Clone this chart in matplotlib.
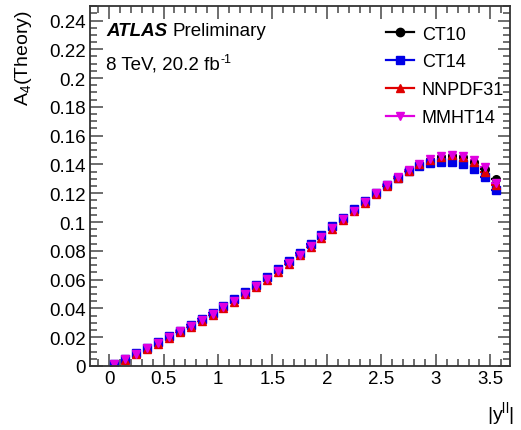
import numpy as np
import matplotlib
matplotlib.use("Agg")
import matplotlib.pyplot as plt
from matplotlib.ticker import MultipleLocator
from matplotlib.lines import Line2D

plt.rcParams['font.family'] = ['Liberation Sans', 'DejaVu Sans']
plt.rcParams['mathtext.fontset'] = 'custom'
plt.rcParams['mathtext.rm'] = 'Liberation Sans'
plt.rcParams['mathtext.it'] = 'Liberation Sans:italic'

# bin centres in |y_ll|
y_ll = [0.05, 0.15, 0.25, 0.35, 0.45, 0.55, 0.65, 0.75, 0.85, 0.95,
        1.05, 1.15, 1.25, 1.35, 1.45, 1.55, 1.65, 1.75, 1.85, 1.95,
        2.05, 2.15, 2.25, 2.35, 2.45, 2.55, 2.65, 2.75, 2.85, 2.95,
        3.05, 3.15, 3.25, 3.35, 3.45, 3.55]

ct10 = [0.0015, 0.0050, 0.0088, 0.0126, 0.0164, 0.0202, 0.0242, 0.0282, 0.0323, 0.0364,
        0.0410, 0.0457, 0.0506, 0.0556, 0.0610, 0.0663, 0.0720, 0.0778, 0.0838, 0.0898,
        0.0960, 0.1020, 0.1080, 0.1140, 0.1198, 0.1255, 0.1308, 0.1358, 0.1400, 0.1432,
        0.1452, 0.1460, 0.1452, 0.1420, 0.1370, 0.1300]
ct14 = [0.0016, 0.0051, 0.0090, 0.0128, 0.0166, 0.0205, 0.0245, 0.0285, 0.0327, 0.0369,
        0.0415, 0.0463, 0.0513, 0.0564, 0.0618, 0.0672, 0.0730, 0.0788, 0.0848, 0.0908,
        0.0970, 0.1030, 0.1088, 0.1146, 0.1203, 0.1257, 0.1306, 0.1352, 0.1388, 0.1412,
        0.1418, 0.1418, 0.1400, 0.1365, 0.1310, 0.1220]
nnpdf31 = [0.0008, 0.0043, 0.0080, 0.0118, 0.0156, 0.0194, 0.0234, 0.0274, 0.0315, 0.0356,
           0.0401, 0.0448, 0.0497, 0.0547, 0.0600, 0.0654, 0.0711, 0.0769, 0.0829, 0.0890,
           0.0952, 0.1013, 0.1074, 0.1135, 0.1194, 0.1252, 0.1306, 0.1357, 0.1400, 0.1433,
           0.1455, 0.1463, 0.1455, 0.1420, 0.1350, 0.1260]
mmht14 = [0.0013, 0.0048, 0.0086, 0.0124, 0.0162, 0.0200, 0.0240, 0.0280, 0.0321, 0.0362,
          0.0407, 0.0454, 0.0503, 0.0553, 0.0606, 0.0660, 0.0716, 0.0774, 0.0834, 0.0895,
          0.0957, 0.1018, 0.1079, 0.1140, 0.1199, 0.1256, 0.1310, 0.1361, 0.1405, 0.1438,
          0.1460, 0.1468, 0.1460, 0.1428, 0.1380, 0.1270]

series = [("CT10", ct10, "black", "o"),
          ("CT14", ct14, "#0000e6", "s"),
          ("NNPDF31", nnpdf31, "#e00000", "^"),
          ("MMHT14", mmht14, "#e000e0", "v")]

fig = plt.figure(figsize=(5.21, 4.31), dpi=100)
ax = fig.add_axes([0.1727, 0.1485, 0.806, 0.835])

handles = []
for name, vals, col, mk in series:
    ax.errorbar(y_ll, vals, xerr=0.04, yerr=0.0018, fmt=mk, color=col,
                ms=5.5, elinewidth=1.6, capsize=0)
    handles.append(Line2D([], [], color=col, marker=mk, ms=6, lw=1.6))

ax.set_xlim(-0.175, 3.68)
ax.set_ylim(0, 0.25)
ax.xaxis.set_minor_locator(MultipleLocator(0.1))
ax.yaxis.set_minor_locator(MultipleLocator(0.005))
ax.set_xticks([0, 0.5, 1, 1.5, 2, 2.5, 3, 3.5])
ax.set_xticklabels(["0", "0.5", "1", "1.5", "2", "2.5", "3", "3.5"])
ax.set_yticks(np.arange(0, 0.241, 0.02))
ax.set_yticklabels(["0", "0.02", "0.04", "0.06", "0.08", "0.1", "0.12", "0.14",
                    "0.16", "0.18", "0.2", "0.22", "0.24"])
ax.tick_params(which="both", direction="in", top=True, right=True,
               labelsize=13.5, color="#555555", width=1.2)
ax.tick_params(which="major", length=9, pad=3)
ax.tick_params(which="minor", length=5)
for s in ax.spines.values():
    s.set_linewidth(1.3)
    s.set_color("#333333")

# axis titles, ROOT style (top / right aligned)
fig.text(23 / 521, 1 - 10 / 431, "A$_4$(Theory)", fontsize=14, rotation=90,
         ha="center", va="top")
fig.text(514 / 521, 1 - 414 / 431, r"|y$^{\mathregular{ll}}$|", fontsize=14,
         ha="right", va="center")

atl = ax.text(0.038, 0.933, "ATLAS", transform=ax.transAxes, fontsize=13.5,
              fontweight="bold", fontstyle="italic", va="center")
ax.annotate("Preliminary", xy=(1, 0.5), xycoords=atl, xytext=(4, 0),
            textcoords="offset points", fontsize=13.5, va="center")
lum = ax.text(0.038, 0.84, "8 TeV, 20.2 fb", transform=ax.transAxes,
              fontsize=13.5, va="center")
ax.annotate("-1", xy=(1, 0.75), xycoords=lum, xytext=(0.5, 0),
            textcoords="offset points", fontsize=9, va="center")

ax.legend(handles, [s[0] for s in series], loc="upper right", frameon=False,
          fontsize=13, handlelength=1.55, handletextpad=0.45, labelspacing=0.6,
          bbox_to_anchor=(1.025, 0.991))

fig.savefig("out.png", dpi=100)
